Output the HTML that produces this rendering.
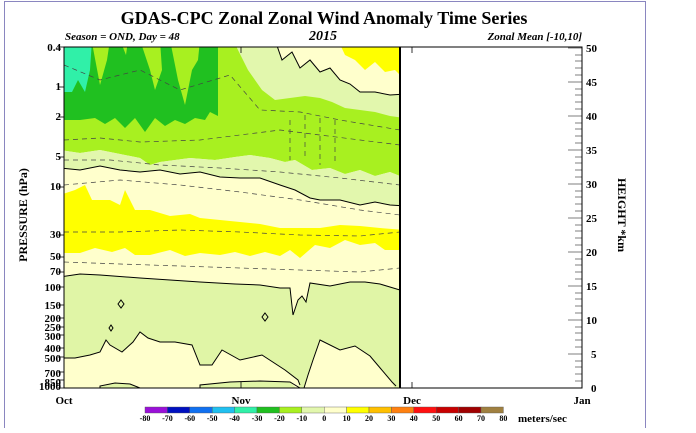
<!DOCTYPE html>
<html><head><meta charset="utf-8"><style>
html,body{margin:0;padding:0;background:#fff;}
svg text{font-family:"Liberation Serif",serif;font-weight:bold;}
</style></head><body>
<svg width="696" height="428" viewBox="0 0 696 428" xmlns="http://www.w3.org/2000/svg">
<rect x="4.5" y="1.5" width="641" height="440" fill="none" stroke="#8a86c0" stroke-width="1"/>
<defs><clipPath id="c"><rect x="64" y="47" width="336" height="341"/></clipPath></defs>
<g clip-path="url(#c)">
<rect x="60" y="40" width="345" height="355" fill="#ffffcc"/>
<path d="M60,40 L405,40 L405,178 L390,172 L375,176 L360,170 L345,174 L330,168 L312,170 L295,160 L285,162 L270,158 L250,155 L235,157 L215,160 L190,158 L160,162 L150,165 L140,158 L120,154 L100,150 L80,153 L60,150 Z" fill="#a8f020"/>
<path d="M60,150 L80,153 L100,150 L120,154 L140,158 L150,165 L160,162 L190,158 L215,160 L235,157 L250,155 L270,158 L285,162 L295,160 L312,170 L330,168 L345,174 L360,170 L375,176 L390,172 L405,178 L405,206 L390,205 L375,202 L360,205 L340,200 L320,200 L310,198 L295,190 L280,185 L260,178 L240,178 L220,177 L200,172 L180,174 L160,170 L140,172 L120,170 L100,166 L80,170 L60,168 Z" fill="#e2f7ad"/>
<path d="M233,40 L248,70 L262,90 L275,100 L290,98 L305,96 L320,98 L332,102 L345,108 L360,110 L375,112 L390,116 L405,118 L405,40 Z" fill="#e2f7ad"/>
<path d="M275,40 L282,60 L292,52 L300,68 L310,60 L320,72 L330,68 L340,80 L350,84 L360,92 L375,92 L390,95 L405,94 L405,40 Z" fill="#ffffcc"/>
<path d="M338,40 L345,55 L355,60 L365,70 L375,62 L385,72 L395,70 L400,75 L405,75 L405,40 Z" fill="#ffff00"/>
<path d="M64,40 L218,40 L218,116 L210,112 L205,120 L195,118 L185,124 L175,120 L165,126 L155,118 L145,132 L135,118 L125,128 L115,118 L105,124 L95,118 L80,120 L64,120 Z" fill="#20c020"/>
<path d="M88,40 L93,48 L100,85 L107,60 L110,40 Z" fill="#a8f020"/>
<path d="M140,40 L150,70 L155,90 L162,70 L160,40 Z" fill="#a8f020"/>
<path d="M170,40 L178,80 L185,105 L192,70 L198,60 L200,40 Z" fill="#a8f020"/>
<path d="M120,40 L126,55 L128,40 Z" fill="#a8f020"/>
<path d="M64,40 L92,40 L90,70 L85,92 L78,80 L72,92 L64,92 Z" fill="#30f0a8"/>
<path d="M60,195 L75,190 L85,185 L92,200 L110,200 L120,205 L125,190 L135,210 L150,210 L170,216 L190,214 L200,218 L220,220 L240,222 L260,224 L280,228 L300,228 L320,228 L340,225 L360,226 L380,228 L405,230 L405,250 L385,250 L375,243 L360,245 L345,240 L330,248 L315,245 L300,258 L290,250 L280,256 L265,252 L250,256 L235,252 L220,255 L200,253 L185,256 L170,250 L150,255 L135,255 L125,248 L112,252 L95,248 L80,253 L60,253 Z" fill="#ffff00"/>
<path d="M60,277 L80,274 L100,275 L140,278 L170,280 L200,282 L235,284 L260,285 L280,288 L290,288 L293,315 L298,300 L302,296 L306,302 L310,283 L330,286 L350,282 L365,282 L380,284 L400,290 L405,290 L405,392 L396,392 L392,382 L370,356 L355,346 L340,350 L320,340 L313,360 L308,375 L304,390 L300,392 L298,380 L285,370 L262,355 L240,360 L222,350 L212,365 L200,365 L192,345 L175,342 L160,342 L148,338 L140,332 L133,342 L122,352 L110,345 L106,340 L100,352 L90,355 L75,358 L60,358 Z" fill="#e0f5a6"/>
<path d="M60,392 L100,392 L100,386 L115,383 L130,384 L140,388 L150,392 L200,392 L200,385 L230,382 L260,381 L290,382 L300,392 Z" fill="#e0f5a6"/>
<g fill="none" stroke="#000" stroke-width="1">
<path d="M60,168 L80,170 L100,166 L120,170 L140,172 L160,170 L180,174 L200,172 L220,177 L240,178 L260,178 L280,185 L295,190 L310,198 L320,200 L340,200 L360,205 L375,202 L390,205 L405,206"/>
<path d="M275,40 L282,60 L292,52 L300,68 L310,60 L320,72 L330,68 L340,80 L350,84 L360,92 L375,92 L390,95 L405,94"/>
<path d="M60,277 L80,274 L100,275 L140,278 L170,280 L200,282 L235,284 L260,285 L280,288 L290,288 L293,315 L298,300 L302,296 L306,302 L310,283 L330,286 L350,282 L365,282 L380,284 L400,290"/>
<path d="M60,358 L75,358 L90,355 L100,352 L106,340 L110,345 L122,352 L133,342 L140,332 L148,338 L160,342 L175,342 L192,345 L200,365 L212,365 L222,350 L240,360 L262,355 L285,370 L298,380 L300,385"/>
<path d="M304,388 L308,375 L313,360 L320,340 L340,350 L355,346 L370,356 L392,382 L396,386"/>
<path d="M100,388 L100,386 L115,383 L130,384 L140,388 M200,388 L200,385 L230,382 L260,381 L290,382 L300,388"/>
<path d="M121,300 L124,304 L121,308 L118,304 Z M111,325 L113,328 L111,331 L109,328 Z M265,313 L268,317 L265,321 L262,317 Z"/>
</g>
<g fill="none" stroke="#444" stroke-width="0.7" stroke-dasharray="5,4">
<path d="M64,140 L100,138 L140,142 L200,140 L240,135 L280,130 L320,135 L360,140 L400,145"/>
<path d="M64,160 L110,160 L160,165 L220,168 L280,172 L340,178 L400,185"/>
<path d="M64,185 L120,180 L180,185 L240,192 L300,200 L360,210 L400,215"/>
<path d="M64,232 L120,232 L180,230 L240,232 L300,235 L360,236 L400,232"/>
<path d="M64,262 L120,264 L180,266 L240,268 L300,270 L360,272 L400,268"/>
<path d="M64,65 L100,80 L140,70 L180,90 L230,75 L260,110 L300,112 L340,120 L400,130"/>
<path d="M290,120 L290,160 M305,115 L305,160 M320,118 L320,165 M335,120 L335,165"/>
</g>
</g>
<rect x="64" y="47" width="518" height="341" fill="none" stroke="#000" stroke-width="1"/>
<line x1="400" y1="47" x2="400" y2="388" stroke="#000" stroke-width="2"/>
<g stroke="#000" stroke-width="0.8">
<line x1="64" y1="47" x2="58" y2="47"/><line x1="64" y1="87" x2="58" y2="87"/><line x1="64" y1="117" x2="58" y2="117"/>
<line x1="64" y1="157" x2="58" y2="157"/><line x1="64" y1="187" x2="58" y2="187"/><line x1="64" y1="235" x2="58" y2="235"/>
<line x1="64" y1="257" x2="58" y2="257"/><line x1="64" y1="272" x2="58" y2="272"/><line x1="64" y1="287" x2="58" y2="287"/>
<line x1="64" y1="305" x2="58" y2="305"/><line x1="64" y1="318" x2="58" y2="318"/><line x1="64" y1="327" x2="58" y2="327"/>
<line x1="64" y1="335" x2="58" y2="335"/><line x1="64" y1="348" x2="58" y2="348"/><line x1="64" y1="357" x2="58" y2="357"/>
<line x1="64" y1="372" x2="58" y2="372"/><line x1="64" y1="380" x2="58" y2="380"/><line x1="64" y1="388" x2="58" y2="388"/>
<line x1="241" y1="388" x2="241" y2="382"/><line x1="412" y1="388" x2="412" y2="382"/>
<line x1="241" y1="47" x2="241" y2="53"/><line x1="412" y1="47" x2="412" y2="53"/>
</g>
<g stroke="#000" stroke-width="0.6">
<path d="M582,48h-14M582,82h-14M582,116h-14M582,150h-14M582,184h-14M582,218h-14M582,252h-14M582,286h-14M582,320h-14M582,354h-14M582,388h-14"/>
<path d="M582,55h-7M582,61h-7M582,68h-7M582,75h-7M582,89h-7M582,95h-7M582,102h-7M582,109h-7M582,123h-7M582,129h-7M582,136h-7M582,143h-7M582,157h-7M582,163h-7M582,170h-7M582,177h-7M582,191h-7M582,197h-7M582,204h-7M582,211h-7M582,225h-7M582,231h-7M582,238h-7M582,245h-7M582,259h-7M582,265h-7M582,272h-7M582,279h-7M582,293h-7M582,299h-7M582,306h-7M582,313h-7M582,327h-7M582,333h-7M582,340h-7M582,347h-7M582,361h-7M582,367h-7M582,374h-7M582,381h-7"/>
</g>
<text x="324" y="24" font-size="18" text-anchor="middle">GDAS-CPC Zonal Zonal Wind Anomaly Time Series</text>
<text x="65" y="40" font-size="11" font-style="italic">Season = OND, Day =  48</text>
<text x="323" y="40" font-size="14" font-style="italic" text-anchor="middle">2015</text>
<text x="582" y="40" font-size="11" font-style="italic" text-anchor="end">Zonal Mean [-10,10]</text>
<g font-size="11" text-anchor="end">
<text x="61" y="51">0.4</text><text x="61" y="90">1</text><text x="61" y="120">2</text><text x="61" y="160">5</text>
<text x="61" y="190">10</text><text x="61" y="238">30</text><text x="61" y="260">50</text><text x="61" y="275">70</text>
<text x="61" y="291">100</text><text x="61" y="309">150</text><text x="61" y="322">200</text><text x="61" y="331">250</text>
<text x="61" y="340">300</text><text x="61" y="352">400</text><text x="61" y="362">500</text><text x="61" y="377">700</text>
<text x="61" y="386">850</text><text x="61" y="390">1000</text>
</g>
<g font-size="11">
<text x="586" y="52">50</text><text x="586" y="86">45</text><text x="586" y="120">40</text><text x="586" y="154">35</text>
<text x="586" y="188">30</text><text x="586" y="222">25</text><text x="586" y="256">20</text><text x="586" y="290">15</text>
<text x="586" y="324">10</text><text x="591" y="358">5</text><text x="591" y="392">0</text>
</g>
<text x="0" y="0" font-size="12" transform="translate(27,215) rotate(-90)" text-anchor="middle">PRESSURE (hPa)</text>
<text x="0" y="0" font-size="12" transform="translate(618,215) rotate(90)" text-anchor="middle">HEIGHT *km</text>
<g font-size="11" text-anchor="middle">
<text x="64" y="404">Oct</text><text x="241" y="404">Nov</text><text x="412" y="404">Dec</text><text x="582" y="404">Jan</text>
</g>
<g stroke="#555" stroke-width="0.4">
<rect x="145" y="407" width="22.4" height="6" fill="#9a10d8"/>
<rect x="167.4" y="407" width="22.4" height="6" fill="#0010c0"/>
<rect x="189.8" y="407" width="22.4" height="6" fill="#1070f0"/>
<rect x="212.2" y="407" width="22.4" height="6" fill="#20c0f0"/>
<rect x="234.6" y="407" width="22.4" height="6" fill="#30f0a8"/>
<rect x="257" y="407" width="22.4" height="6" fill="#20c020"/>
<rect x="279.4" y="407" width="22.4" height="6" fill="#a8f020"/>
<rect x="301.8" y="407" width="22.4" height="6" fill="#e2f7ad"/>
<rect x="324.2" y="407" width="22.4" height="6" fill="#ffffcc"/>
<rect x="346.6" y="407" width="22.4" height="6" fill="#ffff00"/>
<rect x="369" y="407" width="22.4" height="6" fill="#ffc000"/>
<rect x="391.4" y="407" width="22.4" height="6" fill="#ff8010"/>
<rect x="413.8" y="407" width="22.4" height="6" fill="#ff1010"/>
<rect x="436.2" y="407" width="22.4" height="6" fill="#c80000"/>
<rect x="458.6" y="407" width="22.4" height="6" fill="#a00000"/>
<rect x="481" y="407" width="22.4" height="6" fill="#a08040"/>
</g>
<g font-size="8" text-anchor="middle" font-weight="normal">
<text x="145" y="421">-80</text><text x="167.4" y="421">-70</text><text x="189.8" y="421">-60</text><text x="212.2" y="421">-50</text>
<text x="234.6" y="421">-40</text><text x="257" y="421">-30</text><text x="279.4" y="421">-20</text><text x="301.8" y="421">-10</text>
<text x="324.2" y="421">0</text><text x="346.6" y="421">10</text><text x="369" y="421">20</text><text x="391.4" y="421">30</text>
<text x="413.8" y="421">40</text><text x="436.2" y="421">50</text><text x="458.6" y="421">60</text><text x="481" y="421">70</text><text x="503.4" y="421">80</text>
</g>
<text x="518" y="422" font-size="11">meters/sec</text>
</svg>
</body></html>
